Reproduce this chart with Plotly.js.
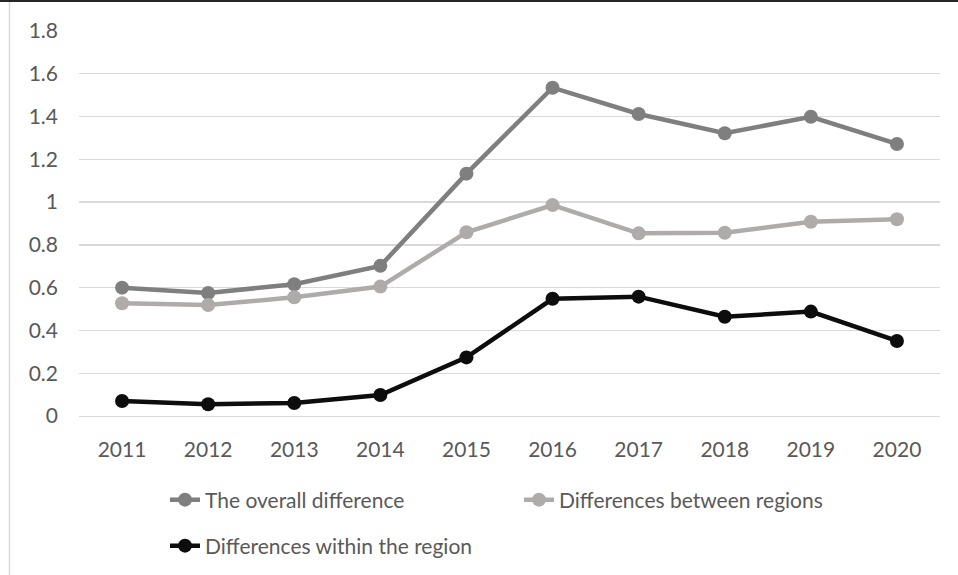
<!DOCTYPE html>
<html>
<head>
<meta charset="utf-8">
<script src="https://cdn.plot.ly/plotly-3.0.1.min.js"></script>
<style>html,body{margin:0;padding:0;background:#fff;}#chart{width:958px;height:575px;}</style>
</head>
<body>
<div id="chart"></div>
<script>
const years = ['2011','2012','2013','2014','2015','2016','2017','2018','2019','2020'];
const overall = [0.600, 0.575, 0.616, 0.702, 1.133, 1.535, 1.412, 1.322, 1.399, 1.272];
const between = [0.527, 0.519, 0.555, 0.605, 0.859, 0.986, 0.854, 0.857, 0.908, 0.920];
const within  = [0.070, 0.055, 0.061, 0.098, 0.274, 0.548, 0.558, 0.464, 0.488, 0.351];
const seriesNames = ['The overall difference', 'Differences between regions', 'Differences within the region'];
const yTicks = [0, 0.2, 0.4, 0.6, 0.8, 1, 1.2, 1.4, 1.6, 1.8];

const FONT = 'Lato, "Open Sans", sans-serif';
const TXT = '#595959';
const FS = 21;

function tr(y, name, color, legend) {
  return {
    x: years, y: y, name: name, type: 'scatter', mode: 'lines+markers',
    line: {color: color, width: 4.5},
    marker: {color: color, size: 14},
    legend: legend
  };
}

const data = [
  tr(overall, seriesNames[0], '#7f7f7f', 'legend'),
  tr(between, seriesNames[1], '#afabab', 'legend'),
  tr(within, seriesNames[2], '#0d0d0d', 'legend2')
];

const LX = (165 - 79) / 861;

const layout = {
  width: 958, height: 575,
  margin: {l: 79, r: 18, t: 31, b: 159, autoexpand: false},
  paper_bgcolor: '#ffffff', plot_bgcolor: '#ffffff',
  font: {family: FONT, size: FS, color: TXT},
  showlegend: true,
  xaxis: {
    type: 'category', range: [-0.5, 9.5], showgrid: false,
    showline: true, linecolor: '#d9d9d9', linewidth: 1.3,
    ticks: '', ticklabelstandoff: 14,
    tickfont: {family: FONT, size: FS, color: TXT}, fixedrange: true
  },
  yaxis: {
    range: [0, 1.8], tickvals: yTicks, ticktext: yTicks.map(String),
    showgrid: true, gridcolor: '#d9d9d9', gridwidth: 1.3,
    zeroline: true, zerolinecolor: '#d9d9d9', zerolinewidth: 1.3,
    showline: false, ticks: '', ticklabelstandoff: 20,
    tickfont: {family: FONT, size: FS, color: TXT}, fixedrange: true
  },
  legend: {
    orientation: 'h', x: LX, xanchor: 'left',
    y: (416 - 500) / 385, yanchor: 'middle',
    entrywidth: 309, entrywidthmode: 'pixels',
    font: {family: FONT, size: FS, color: TXT}, bgcolor: 'rgba(0,0,0,0)'
  },
  legend2: {
    orientation: 'h', x: LX, xanchor: 'left',
    y: (416 - 546) / 385, yanchor: 'middle',
    font: {family: FONT, size: FS, color: TXT}, bgcolor: 'rgba(0,0,0,0)'
  },
  shapes: [
    {type: 'line', xref: 'paper', yref: 'paper',
     x0: (0 - 79) / 861, x1: (958 - 79) / 861, y0: (416 - 1) / 385, y1: (416 - 1) / 385,
     line: {color: '#262626', width: 2}},
    {type: 'line', xref: 'paper', yref: 'paper',
     x0: (9.5 - 79) / 861, x1: (9.5 - 79) / 861, y0: (416 - 2) / 385, y1: (416 - 575) / 385,
     line: {color: '#d9d9d9', width: 1.5}}
  ]
};

Plotly.newPlot('chart', data, layout, {displayModeBar: false, staticPlot: true});
</script>
</body>
</html>
